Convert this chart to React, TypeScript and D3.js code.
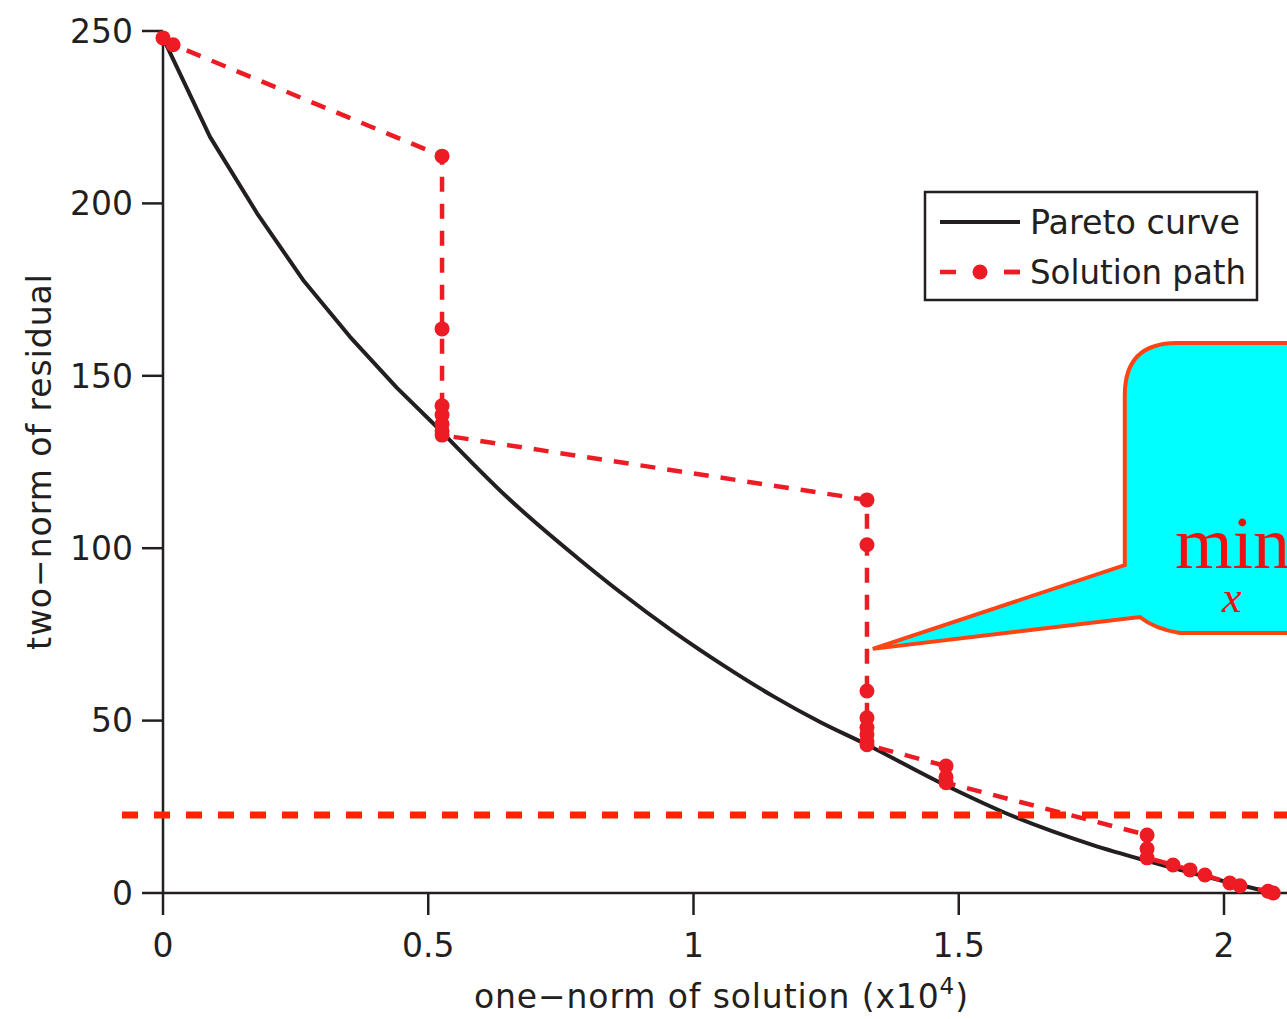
import React from "react";
import * as d3 from "d3";

const W = 1287;
const H = 1019;

// Pareto curve (x in units of 1e4, y = two-norm of residual)
// upper part is drawn as straight segments, lower part smoothly
const paretoTopX = [0, 0.0886, 0.177, 0.264, 0.3525, 0.441, 0.5278];
const paretoTopY = [248, 219.3, 197.2, 177.8, 161.3, 146.5, 133.4];
const paretoLowX = [0.5278, 0.6484, 0.786, 0.8615, 0.9613, 1.0556, 1.1499, 1.2385, 1.327, 1.4703, 1.5834, 1.7531, 1.8549, 2.0057, 2.0867];
const paretoLowY = [133.4, 114.85, 96.6, 87.3, 75.9, 66.1, 57.1, 49.6, 43.0, 31.6, 23.5, 13.9, 9.3, 3.2, 0.3];

// Solution path
const pathX = [0, 0.019, 0.526, 0.526, 0.526, 0.526, 0.526, 0.526, 0.526, 1.327, 1.327, 1.327, 1.327, 1.327, 1.327, 1.327, 1.327, 1.476, 1.476, 1.476, 1.855, 1.855, 1.855, 1.904, 1.936, 1.964, 2.011, 2.03, 2.083, 2.093];
const pathY = [248, 246, 213.7, 163.6, 141.3, 138.7, 136, 134, 132.8, 114, 101, 58.6, 50.8, 48, 46, 44, 43, 36.8, 33.6, 32, 16.8, 12.8, 10.2, 8.1, 6.7, 5.2, 2.9, 2.1, 0.5, 0];

const sigmaLevel = 22.6;

const xTicks = [0, 0.5, 1, 1.5, 2];
const xTickLabels = ["0", "0.5", "1", "1.5", "2"];
const yTicks = [0, 50, 100, 150, 200, 250];
const yTickLabels = ["0", "50", "100", "150", "200", "250"];

const legendLabels = ["Pareto curve", "Solution path"];

// callout anchor (data units)
const calloutTip = { x: 1.338, y: 70.8 };
const calloutBoxLeft = 1.813;
const calloutBoxTop = 159.5;
const calloutBoxBottom = 75.4;

export default function App() {
  const x = d3.scaleLinear().domain([0, 2.5]).range([163, 163 + 530.5 * 2.5]);
  const y = d3.scaleLinear().domain([0, 250]).range([893, 31]);

  const zip = (a: number[], b: number[]) => a.map((v, i) => [v, b[i]] as [number, number]);
  const paretoTop = zip(paretoTopX, paretoTopY);
  const paretoLow = zip(paretoLowX, paretoLowY);
  const sol = zip(pathX, pathY);

  const lineLin = d3
    .line<[number, number]>()
    .x((d) => x(d[0]))
    .y((d) => y(d[1]));
  const lineSmooth = d3
    .line<[number, number]>()
    .x((d) => x(d[0]))
    .y((d) => y(d[1]))
    .curve(d3.curveMonotoneX);

  const font = "'DejaVu Sans', Verdana, sans-serif";
  const textCol = "#231f20";
  const red = "#ed1c24";

  // callout geometry
  const bl = x(calloutBoxLeft);
  const bt = y(calloutBoxTop);
  const bb = y(calloutBoxBottom);
  const tx = x(calloutTip.x);
  const ty = y(calloutTip.y);
  const r = 52;
  const right = W + 60;
  const calloutPath = [
    `M ${tx} ${ty}`,
    `L ${bl} ${bt + 222}`,
    `L ${bl} ${bt + r}`,
    `Q ${bl} ${bt} ${bl + r} ${bt}`,
    `L ${right} ${bt}`,
    `L ${right} ${bb}`,
    `L ${bl + 55} ${bb}`,
    `Q ${bl + 30} ${bb - 4} ${bl + 15} ${bb - 16}`,
    `Z`,
  ].join(" ");

  return (
    <svg
      width={W}
      height={H}
      style={{ position: "absolute", left: 0, top: 0, background: "#fff" }}
      fontFamily={font}
    >
      <rect x={0} y={0} width={W} height={H} fill="#fff" />
      {/* axes */}
      <line x1={x(0)} x2={W} y1={y(0)} y2={y(0)} stroke={textCol} strokeWidth={2.5} />
      <line x1={x(0)} x2={x(0)} y1={y(0)} y2={y(250)} stroke={textCol} strokeWidth={2.5} />
      {yTicks.map((t, i) => (
        <g key={"yt" + i}>
          <line x1={x(0) - 21} x2={x(0)} y1={y(t)} y2={y(t)} stroke={textCol} strokeWidth={2.5} />
          <text x={133} y={y(t)} dy="0.36em" textAnchor="end" fontSize={33} fill={textCol}>
            {yTickLabels[i]}
          </text>
        </g>
      ))}
      {xTicks.map((t, i) => (
        <g key={"xt" + i}>
          <line x1={x(t)} x2={x(t)} y1={y(0)} y2={y(0) + 22} stroke={textCol} strokeWidth={2.5} />
          <text x={x(t)} y={957} textAnchor="middle" fontSize={33} fill={textCol}>
            {xTickLabels[i]}
          </text>
        </g>
      ))}
      <text x={474} y={1008} fontSize={33} fill={textCol} textLength={494} lengthAdjust="spacing">
        one−norm of solution (x10
        <tspan fontSize={23} dy={-14}>4</tspan>
        <tspan dy={14}>)</tspan>
      </text>
      <text
        transform={`translate(51, 650) rotate(-90)`}
        fontSize={33}
        fill={textCol}
        textLength={376}
        lengthAdjust="spacing"
      >
        two−norm of residual
      </text>

      {/* pareto curve */}
      <path d={lineLin(paretoTop) || ""} fill="none" stroke="#231f20" strokeWidth={4} strokeLinejoin="round" />
      <path d={lineSmooth(paretoLow) || ""} fill="none" stroke="#231f20" strokeWidth={4} strokeLinejoin="round" />

      {/* solution path */}
      <path d={lineLin(sol) || ""} fill="none" stroke={red} strokeWidth={4.5} strokeDasharray="15,12" />
      {sol.map((d, i) => (
        <circle key={"p" + i} cx={x(d[0])} cy={y(d[1])} r={7.5} fill={red} />
      ))}

      {/* sigma line */}
      <line
        x1={122}
        x2={W}
        y1={y(sigmaLevel)}
        y2={y(sigmaLevel)}
        stroke="#ff2200"
        strokeWidth={7}
        strokeDasharray="16,16"
      />

      {/* callout */}
      <path d={calloutPath} fill="#00ffff" stroke="#ff4411" strokeWidth={4} strokeLinejoin="miter" />
      <text x={1175} y={568} fontSize={74} fill="#ee1111" fontFamily="'Liberation Serif', 'DejaVu Serif', serif">
        min
      </text>
      <text x={1222} y={612} fontSize={44} fill="#ee1111" fontStyle="italic" fontFamily="'Liberation Serif', 'DejaVu Serif', serif">
        x
      </text>

      {/* legend */}
      <rect x={925} y={192} width={332} height={108} fill="#fff" stroke="#231f20" strokeWidth={2.5} />
      <line x1={940} x2={1020} y1={222} y2={222} stroke="#231f20" strokeWidth={4} />
      <text x={1030} y={222} dy="0.36em" fontSize={33} fill={textCol} textLength={210} lengthAdjust="spacingAndGlyphs">
        {legendLabels[0]}
      </text>
      <line x1={940} x2={1020} y1={272} y2={272} stroke={red} strokeWidth={4.5} strokeDasharray="16,48" />
      <line x1={1004} x2={1020} y1={272} y2={272} stroke={red} strokeWidth={4.5} />
      <circle cx={980} cy={272} r={7.5} fill={red} />
      <text x={1030} y={272} dy="0.36em" fontSize={33} fill={textCol} textLength={216} lengthAdjust="spacingAndGlyphs">
        {legendLabels[1]}
      </text>
    </svg>
  );
}
